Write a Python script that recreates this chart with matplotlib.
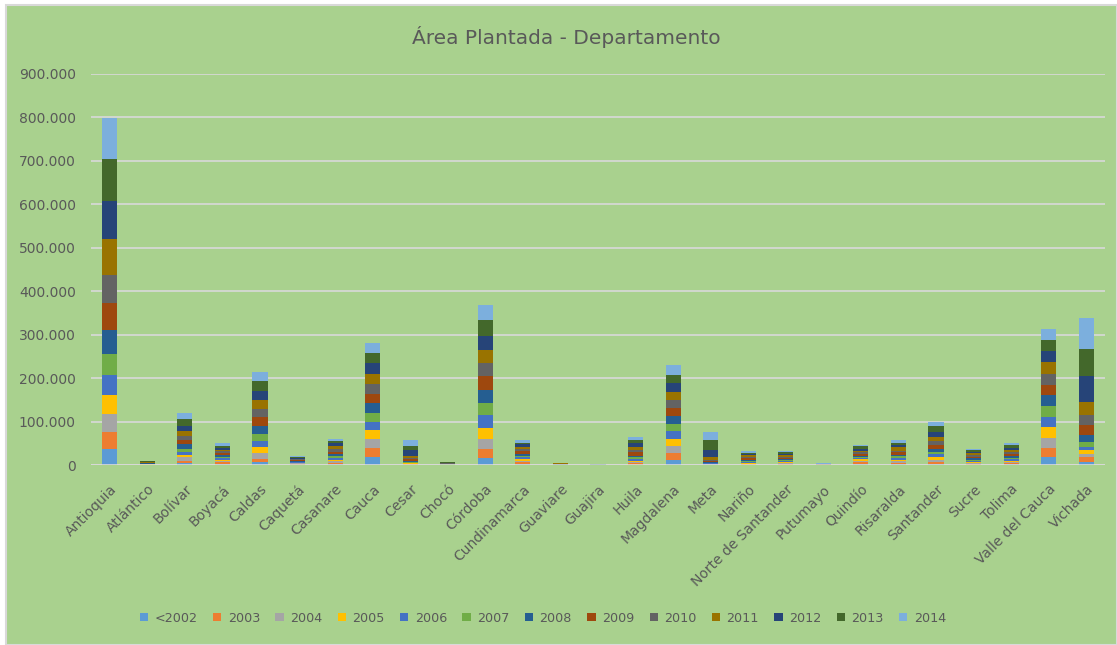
import matplotlib.pyplot as plt
from matplotlib.patches import Rectangle
from matplotlib.ticker import FuncFormatter
import numpy as np

# =========================================================
# DATOS — Área plantada por departamento (hectáreas)
# =========================================================

titulo = "Área Plantada - Departamento"

departamentos = [
    'Antioquia', 'Atlántico', 'Bolívar', 'Boyacá', 'Caldas', 'Caquetá',
    'Casanare', 'Cauca', 'Cesar', 'Chocó', 'Córdoba', 'Cundinamarca',
    'Guaviare', 'Guajira', 'Huila', 'Magdalena', 'Meta', 'Nariño',
    'Norte de Santander', 'Putumayo', 'Quindío', 'Risaralda', 'Santander',
    'Sucre', 'Tolima', 'Valle del Cauca', 'Vichada'
]

anios = ['<2002', '2003', '2004', '2005', '2006', '2007', '2008',
         '2009', '2010', '2011', '2012', '2013', '2014']

a_2002 = [37700, 500, 5400, 3100, 6900, 1500, 3100, 20000, 800, 300, 17700, 3100, 200, 200,
          1500, 13100, 800, 1500, 1500, 200, 3100, 2300, 2300, 1500, 2300, 19200, 8500]
a_2003 = [39100, 600, 5400, 3800, 7700, 2500, 3100, 20800, 1500, 400, 19200, 3800, 300, 200,
          3100, 15400, 800, 1500, 2000, 200, 3800, 3100, 5400, 2300, 3100, 21500, 10000]
a_2004 = [42100, 700, 7700, 3100, 13800, 1200, 3100, 19200, 1500, 400, 24600, 3100, 300, 300,
          3100, 16900, 800, 1500, 1500, 300, 3100, 5400, 5400, 2300, 2300, 23100, 6900]
a_2005 = [43700, 900, 5400, 3100, 13800, 1500, 3800, 20800, 1200, 500, 25400, 3800, 400, 300,
          3100, 14600, 800, 2000, 2500, 300, 3800, 2300, 6200, 1500, 2300, 23800, 9200]
a_2006 = [46000, 600, 6200, 3800, 13800, 1000, 3800, 20000, 1500, 500, 28500, 5400, 400, 400,
          3800, 19200, 1500, 2000, 2000, 300, 3100, 4600, 6900, 2300, 3800, 24600, 8500]
a_2007 = [48300, 700, 8500, 3100, 16900, 1200, 3800, 20800, 2300, 600, 29200, 3100, 500, 400,
          4600, 16900, 1500, 2300, 2300, 400, 2300, 3100, 4600, 3800, 3100, 23800, 10800]
a_2008 = [55200, 700, 10800, 3800, 18500, 1500, 5400, 21500, 2300, 600, 30000, 3800, 600, 500,
          3100, 16900, 2300, 2300, 2500, 400, 3100, 3800, 6900, 3100, 3800, 25400, 16900]
a_2009 = [61500, 800, 9200, 4600, 19200, 2000, 5400, 21500, 3000, 700, 30000, 6200, 900, 400,
          7700, 19200, 2300, 3000, 3000, 400, 4600, 6200, 9200, 3800, 4600, 23800, 22300]
a_2010 = [65100, 700, 10000, 3800, 19200, 1800, 5400, 23100, 3000, 800, 30000, 4600, 700, 400,
          6200, 19200, 1500, 3500, 3100, 400, 3100, 3100, 9200, 3800, 4600, 26200, 23800]
a_2011 = [82200, 800, 10800, 3800, 21500, 1600, 6900, 23100, 5400, 700, 31500, 6200, 600, 400,
          6200, 16900, 7700, 3500, 3500, 400, 3800, 7700, 10000, 3800, 5400, 25400, 30000]
a_2012 = [88200, 1300, 12300, 4600, 20800, 2000, 6900, 23800, 12300, 800, 32300, 5400, 500, 300,
          9200, 21500, 15400, 3100, 3000, 500, 3100, 4600, 11500, 3000, 4600, 25400, 57700]
a_2013 = [94400, 900, 15400, 4600, 21500, 2200, 5400, 23100, 10800, 900, 35400, 3800, 400, 300,
          6900, 19200, 23100, 3100, 3500, 500, 6900, 6200, 12300, 4600, 6200, 25400, 63800]
a_2014 = [96000, 500, 14600, 5400, 21500, 1000, 5400, 23100, 13000, 800, 34600, 6200, 300, 300,
          7700, 23100, 18500, 3000, 3400, 500, 3800, 5400, 10800, 1900, 5400, 25400, 70000]

series = [a_2002, a_2003, a_2004, a_2005, a_2006, a_2007, a_2008,
          a_2009, a_2010, a_2011, a_2012, a_2013, a_2014]

colores = ['#5B9BD5', '#ED7D31', '#A5A5A5', '#FFC000', '#4472C4', '#70AD47', '#255E91',
           '#9E480E', '#636363', '#997300', '#264478', '#43682B', '#7CAFDD']

# =========================================================
# GRÁFICO
# =========================================================

verde = '#A9D18E'
gris_texto = '#595959'
gris_linea = '#D9D9D9'

fig = plt.figure(figsize=(11.17, 6.45), dpi=100, facecolor='white')

# fondo del área del gráfico (estilo Excel)
fondo = Rectangle((6 / 1117, 0), 1 - 6 / 1117, 1 - 5 / 645,
                  transform=fig.transFigure, facecolor=verde,
                  edgecolor=gris_linea, linewidth=1.5, zorder=-10)
fig.add_artist(fondo)

ax = fig.add_axes([91 / 1117, 0.2783, (1105 - 91) / 1117, 0.607])
ax.set_facecolor('none')

x = np.arange(len(departamentos))
base = np.zeros(len(departamentos))

for anio, valores, color in zip(anios, series, colores):
    ax.bar(x, valores, 0.40, bottom=base, color=color, label=anio, zorder=2)
    base = base + np.array(valores)

ax.set_xlim(-0.5, len(departamentos) - 0.5)
ax.set_ylim(0, 900000)
ax.set_yticks(np.arange(0, 900001, 100000))
ax.yaxis.set_major_formatter(FuncFormatter(lambda v, p: f'{int(v):,}'.replace(',', '.')))

ax.set_xticks(x)
ax.set_xticklabels(departamentos, rotation=45, ha='right', rotation_mode='anchor')

ax.tick_params(axis='both', length=0, colors=gris_texto, labelsize=10)
ax.tick_params(axis='y', pad=11)
ax.tick_params(axis='x', pad=12)

for lado in ax.spines.values():
    lado.set_visible(False)

ax.yaxis.grid(True, color=gris_linea, linewidth=1.2)
ax.set_axisbelow(True)
ax.axhline(0, color=gris_linea, linewidth=1.2, zorder=3)

fig.text(566 / 1117, 1 - 37 / 645, titulo, ha='center', va='center',
         fontsize=14.5, color=gris_texto)

fig.legend(loc='center', bbox_to_anchor=(543 / 1117, 1 - 618 / 645), ncol=13,
           frameon=False, fontsize=9.2, labelcolor=gris_texto,
           handlelength=0.65, handleheight=0.65, handletextpad=0.5,
           columnspacing=1.2)

fig.savefig('out.png', dpi=100, facecolor=fig.get_facecolor())
